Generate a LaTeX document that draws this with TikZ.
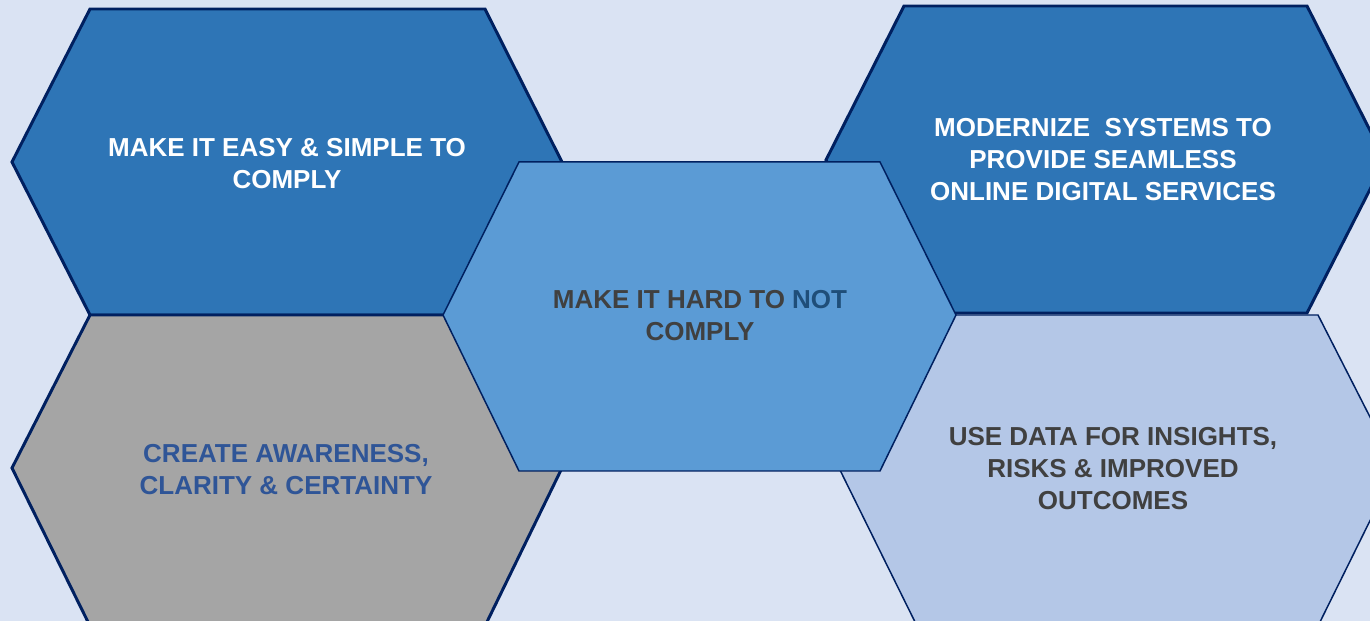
\documentclass[tikz,border=0pt]{standalone}
\usepackage{fontspec}
\setmainfont{Liberation Sans}
\usepackage{tikz}
\usetikzlibrary{positioning}

\definecolor{bgblue}{HTML}{DAE3F3}
\definecolor{hexdark}{HTML}{2E75B6}
\definecolor{hexmid}{HTML}{5B9BD5}
\definecolor{hexgrey}{HTML}{A5A5A5}
\definecolor{hexlight}{HTML}{B4C7E7}
\definecolor{edgenavy}{HTML}{002060}
\definecolor{textgrey}{HTML}{404040}
\definecolor{textblue}{HTML}{2F5597}
\definecolor{notblue}{HTML}{1F4E79}

\tikzset{
  cellthick/.style={draw=edgenavy, line width=1.7pt, line join=miter},
  cellthin/.style={draw=edgenavy, line width=0.85pt, line join=miter},
  celltext/.style={align=center, font=\bfseries\fontsize{14.8}{18.2}\selectfont}
}

\begin{document}
\begin{tikzpicture}[x=0.02cm, y=-0.02cm]
\fill[bgblue] (0,0) rectangle (1370,621);
\useasboundingbox (0,0) rectangle (1370,621);
\begin{scope}
\clip (0,0) rectangle (1370,621);
% outer cells
\filldraw[cellthick, fill=hexdark] (12,162) -- (90,9) -- (485,9) -- (562,162) -- (485,315) -- (90,315) -- cycle;
\filldraw[cellthick, fill=hexdark] (826,160) -- (904,6) -- (1307,6) -- (1385,160) -- (1307,313) -- (904,313) -- cycle;
\filldraw[cellthick, fill=hexgrey] (12,468) -- (90,315) -- (485,315) -- (562,468) -- (485,626) -- (90,626) -- cycle;
\filldraw[cellthin, fill=hexlight] (839,468) -- (917,315) -- (1318,315) -- (1396,468) -- (1318,626) -- (917,626) -- cycle;
% centre cell
\filldraw[cellthin, fill=hexmid] (443,315) -- (519,162) -- (880,162) -- (956,315) -- (880,471) -- (519,471) -- cycle;
\end{scope}

\node[celltext, text=white] (easy) at (287,164) {MAKE IT EASY \& SIMPLE TO\\COMPLY};
\node[celltext, text=white] (modern) at (1103,160) {MODERNIZE\ \ SYSTEMS TO\\PROVIDE SEAMLESS\\ONLINE DIGITAL SERVICES};
\node[celltext, text=textgrey] (hard) at (700,316) {MAKE IT HARD TO \textcolor{notblue}{NOT}\\COMPLY};
\node[celltext, text=textblue] (aware) at (286,470) {CREATE AWARENESS,\\CLARITY \& CERTAINTY};
\node[celltext, text=textgrey] (insight) at (1113,469) {USE DATA FOR INSIGHTS,\\RISKS \& IMPROVED\\OUTCOMES};
\end{tikzpicture}
\end{document}
